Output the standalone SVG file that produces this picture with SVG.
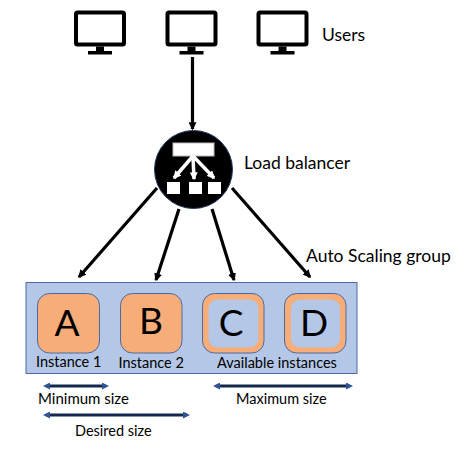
<svg xmlns="http://www.w3.org/2000/svg" width="465" height="449" viewBox="0 0 465 449">
<style>
text{font-family:Lato,"Liberation Sans",sans-serif;fill:#000}
.l{font-size:14.500px}
.m{font-size:15px}
.u{font-size:17.500px}
.n{font-size:37px;text-anchor:middle}
.mon{fill:#fff;stroke:#000;stroke-width:4;stroke-linejoin:round}
.inst{stroke:#4a6aa5;stroke-width:1}
.a{stroke:#000;stroke-width:3.200;fill:none;marker-end:url(#ah)}
.s{stroke:#14284f;stroke-width:3;fill:none;marker-start:url(#sh);marker-end:url(#sh)}
.w{stroke:#fff;stroke-width:3.500;fill:none;marker-end:url(#wh)}
</style>
<defs>
<marker id="ah" markerWidth="8" markerHeight="8" refX="5" refY="3" orient="auto" markerUnits="userSpaceOnUse" viewBox="0 0 6 6"><path d="M0 0L6 3L0 6Z" fill="#000"/></marker>
<marker id="sh" markerWidth="7" markerHeight="7" refX="3" refY="3" orient="auto-start-reverse" markerUnits="userSpaceOnUse" viewBox="0 0 6 6"><path d="M0 0L6 3L0 6Z" fill="#2f5597"/></marker>
<marker id="wh" markerWidth="8" markerHeight="8" refX="5" refY="3" orient="auto" markerUnits="userSpaceOnUse" viewBox="0 0 6 6"><path d="M0 0L6 3L0 6Z" fill="#fff"/></marker>
<g id="m"><rect x="2" y="2" width="48" height="32" rx="1.500" class="mon"/><rect x="22" y="36" width="8" height="5" fill="#000"/><rect x="14" y="40.500" width="24" height="3.500" fill="#000"/></g>
</defs>
<g id="users">
<use href="#m" x="74" y="10.500"/>
<use href="#m" x="165.500" y="10.500"/>
<use href="#m" x="256.500" y="10.500"/>
<text x="322" y="41" class="u">Users</text>
</g>
<g id="group">
<rect x="26" y="282.500" width="331" height="91" fill="#b4c7e7" stroke="#4a6aa5" stroke-width="1"/>
<text x="306" y="262" class="u">Auto Scaling group</text>
</g>
<g id="connectors">
<line x1="192.500" y1="57" x2="192.500" y2="129" class="a"/>
<line x1="157" y1="188" x2="79" y2="277" class="a"/>
<line x1="179" y1="209" x2="156" y2="280" class="a"/>
<line x1="212" y1="209" x2="234" y2="280" class="a"/>
<line x1="232" y1="188" x2="310" y2="277" class="a"/>
</g>
<g id="lb">
<circle cx="193.500" cy="169.500" r="39" fill="#000" stroke="#1f3864" stroke-width="1"/>
<rect x="173" y="143" width="41" height="13" fill="#fff" stroke="#bbb" stroke-width="1"/>
<line x1="193" y1="156" x2="174" y2="178" class="w"/>
<line x1="193" y1="156" x2="194" y2="179" class="w"/>
<line x1="193" y1="156" x2="214" y2="178" class="w"/>
<rect x="167" y="182" width="13" height="12" fill="#fff"/>
<rect x="189" y="182" width="13" height="12" fill="#fff"/>
<rect x="208" y="182" width="13" height="12" fill="#fff"/>
<text x="244" y="169" class="u">Load balancer</text>
</g>
<g id="a">
<rect x="37.500" y="293.500" width="62" height="59.500" rx="12" fill="#f7ad78" class="inst"/>
<text x="67" y="336" class="n">A</text>
<text x="36" y="367" class="l">Instance 1</text>
</g>
<g id="b">
<rect x="120.500" y="293.500" width="61.500" height="59.500" rx="12" fill="#f7ad78" class="inst"/>
<text x="151" y="334" class="n">B</text>
<text x="118.500" y="368" class="l">Instance 2</text>
</g>
<g id="c">
<rect x="202.500" y="293.500" width="61.500" height="59.500" rx="12" fill="#f7ad78" class="inst"/>
<rect x="208.500" y="299.500" width="50" height="48" rx="9" fill="#b4c7e7"/>
<text x="231" y="336" class="n">C</text>
</g>
<g id="d">
<rect x="284.500" y="293.500" width="61.500" height="59.500" rx="12" fill="#f7ad78" class="inst"/>
<rect x="291" y="299.500" width="49" height="48" rx="9" fill="#b4c7e7"/>
<text x="314" y="336" class="n">D</text>
</g>
<text x="217" y="368" class="l">Available instances</text>
<g id="sizes">
<line x1="46.500" y1="386" x2="105.500" y2="386" class="s"/>
<line x1="46.500" y1="415" x2="186.500" y2="415" class="s"/>
<line x1="216.500" y1="386" x2="349.500" y2="386" class="s"/>
<text x="38" y="404" class="m">Minimum size</text>
<text x="75" y="436" class="l">Desired size</text>
<text x="236" y="404" class="l">Maximum size</text>
</g>
</svg>
